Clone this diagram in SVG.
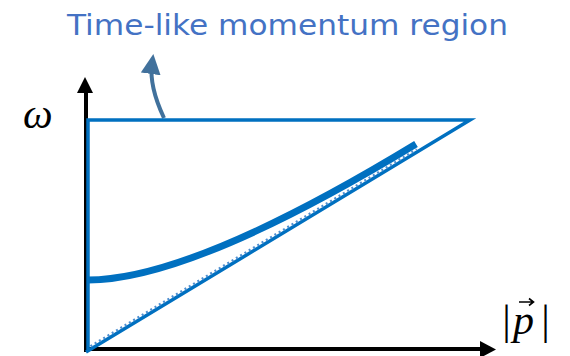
<svg xmlns="http://www.w3.org/2000/svg" width="570" height="356" viewBox="0 0 570 356">
<defs>
<style>
.axis{stroke:#000;stroke-width:4;fill:none}
.blue{stroke:#0070C0;fill:none}
.lbl{font-family:"Liberation Serif","DejaVu Serif",serif;font-style:italic;fill:#000}
</style>
<marker id="ah" markerWidth="5" markerHeight="5" refX="2.5" refY="2.5" orient="auto" markerUnits="strokeWidth"><path d="M0,0 L5,2.5 L0,5 Z" fill="#41719C"/></marker>
</defs>
<g id="connectors">
<path id="y-axis" class="axis" d="M86,352 V90"/>
<path d="M77,93 L85,77 L93,93 Z" fill="#000"/>
<path id="x-axis" class="axis" d="M84,349 H482"/>
<path d="M480,341 L496,349.5 L480,358 Z" fill="#000"/>
<path id="annot-arrow" d="M164,118 Q149,86 152,64" stroke="#41719C" stroke-width="4" fill="none" marker-end="url(#ah)"/>
</g>
<g id="light-cone">
<path class="blue" stroke-width="3.5" d="M88,350 V120 H470 L86,352"/>
<path d="M90.5,346.3 L416.7,149.3" stroke="#4F8FD0" stroke-width="2.5" stroke-dasharray="2,3" fill="none"/>
</g>
<g id="dispersion">
<path class="blue" stroke-width="7" d="M88,280 Q192,280 416,144" stroke-linecap="butt"/>
</g>
<g id="title">
<text x="67" y="35" font-family="'DejaVu Sans','Liberation Sans',sans-serif" font-size="28" fill="#4472C4" textLength="441" lengthAdjust="spacingAndGlyphs">Time-like momentum region</text>
</g>
<g id="omega-label">
<text class="lbl" x="23" y="128" font-size="42">ω</text>
</g>
<g id="p-label">
<text class="lbl" x="500" y="334" font-size="42" font-style="normal">|</text>
<text class="lbl" x="513" y="334" font-size="42">p</text>
<path d="M519,302 H533 M529,298.5 L533.5,302 L529,305.5" stroke="#000" stroke-width="1.6" fill="none"/>
<text class="lbl" x="539" y="334" font-size="42" font-style="normal">|</text>
</g>
</svg>
